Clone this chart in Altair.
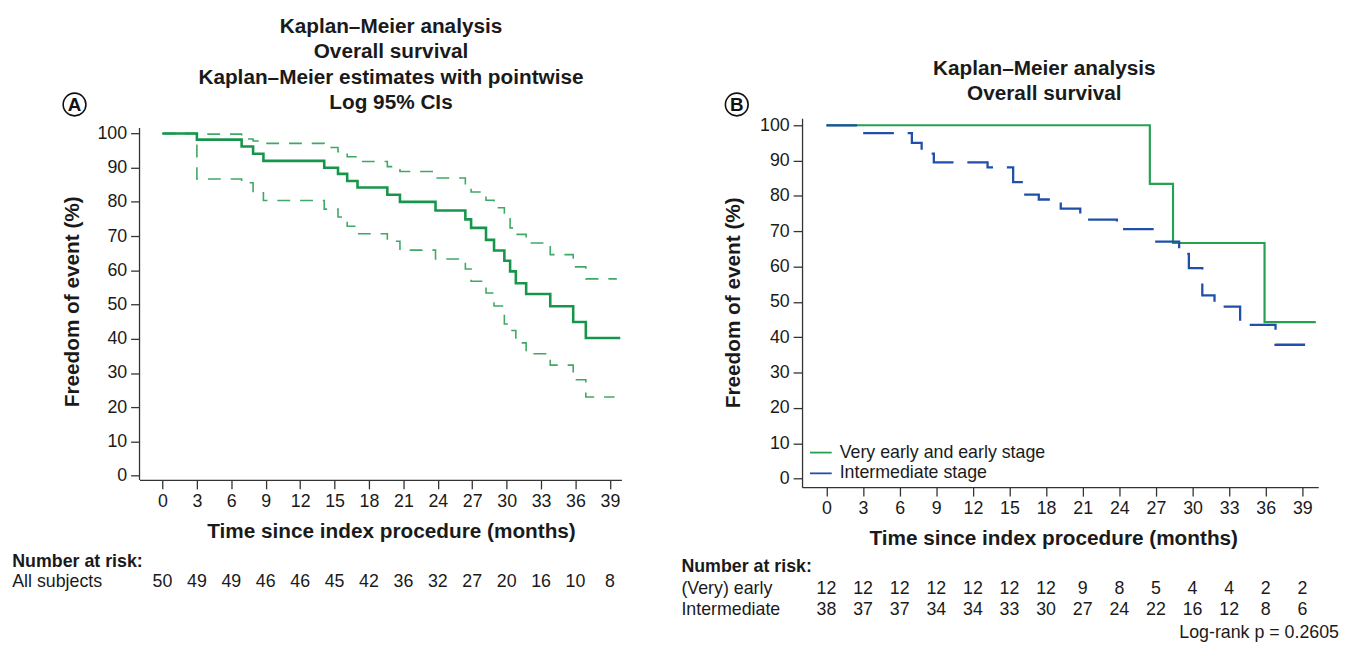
import altair as alt
import pandas as pd

FONT = "Liberation Sans"
TXT = "#1a1a1a"
AX = "#333333"

# ---------------- Panel A data ----------------
km_t = [0, 3.0, 6.9, 7.9, 8.8, 14.1, 15.3, 16.1, 17.0, 19.6, 20.7, 23.8, 26.4, 26.9,
        28.2, 28.9, 29.8, 30.3, 30.8, 31.7, 33.8, 35.8, 36.9, 39.9]
km_s = [100, 98.2, 96.2, 94.1, 92.0, 90.0, 88.2, 86.1, 84.2, 82.1, 80.0, 77.5, 74.9, 72.4,
        68.9, 65.8, 62.8, 59.7, 56.2, 53.1, 49.5, 44.9, 40.2, 40.2]
lo_t = [0, 3.0, 6.9, 7.9, 8.8, 14.1, 15.3, 16.1, 17.0, 19.6, 20.7, 23.8, 26.4, 26.9,
        28.2, 28.9, 29.8, 30.3, 30.8, 31.7, 33.8, 35.8, 36.9, 39.4]
lo_s = [100, 86.7, 85.6, 82.7, 80.4, 77.9, 75.6, 72.9, 70.7, 68.5, 65.9, 63.3, 60.4, 56.8,
        53.4, 49.6, 44.3, 42.4, 38.8, 35.6, 32.3, 28.0, 23.0, 23.0]
hi_t = [0, 3.0, 6.9, 7.9, 8.8, 14.1, 15.3, 16.1, 17.0, 19.6, 20.7, 23.8, 26.4, 26.9,
        28.2, 28.9, 29.8, 30.3, 30.8, 31.7, 33.8, 35.8, 36.9, 39.6]
hi_s = [100, 99.8, 98.4, 97.8, 97.1, 95.9, 94.7, 93.2, 91.8, 90.3, 88.9, 87.0, 84.8, 82.9,
        80.5, 78.3, 76.1, 72.4, 70.5, 68.0, 64.6, 61.0, 57.5, 57.5]

risk_times = [0, 3, 6, 9, 12, 15, 18, 21, 24, 27, 30, 33, 36, 39]
risk_all = [50, 49, 49, 46, 46, 45, 42, 36, 32, 27, 20, 16, 10, 8]

# ---------------- Panel B data ----------------
groups = ["Very early and early stage", "Intermediate stage"]
early_t = [0, 26.5, 28.4, 35.9, 40.1]
early_s = [100, 83.4, 66.7, 44.3, 44.3]
inter_t = [0, 3.0, 7.0, 7.8, 8.8, 13.2, 15.3, 16.0, 17.4, 19.2, 20.8, 23.8, 26.9,
           28.9, 29.7, 30.8, 31.8, 33.9, 36.8, 40.0]
inter_s = [100, 97.8, 95.0, 92.0, 89.5, 88.1, 83.9, 80.4, 79.0, 76.4, 73.3, 70.6, 67.1,
           63.6, 59.6, 51.9, 48.7, 43.5, 37.9, 37.9]
risk_early = [12, 12, 12, 12, 12, 12, 12, 9, 8, 5, 4, 4, 2, 2]
risk_inter = [38, 37, 37, 34, 34, 33, 30, 27, 24, 22, 16, 12, 8, 6]

title_a = ["Kaplan\u2013Meier analysis", "Overall survival",
           "Kaplan\u2013Meier estimates with pointwise", "Log 95% CIs"]
title_b = ["Kaplan\u2013Meier analysis", "Overall survival"]
x_title = "Time since index procedure (months)"
y_title = "Freedom of event (%)"
y_ticks = [0, 10, 20, 30, 40, 50, 60, 70, 80, 90, 100]

GREEN_A = "#17964b"
GREEN_A_CI = "#3fa866"
GREEN_B = "#27a052"
BLUE_B = "#1f4fa8"

one = pd.DataFrame({"k": [0]})


def axis_x(tx, ty):
    return alt.Axis(values=risk_times, tickCount=40, title=x_title, titleX=tx, titleY=ty,
                    titleBaseline="middle", titleAlign="center", labelOverlap=False,
                    labelFontSize=18, labelColor=TXT, labelPadding=4, tickSize=9,
                    tickColor=AX, domainColor=AX, tickWidth=1.3, domainWidth=1.3,
                    titleFontSize=21, titleFontWeight="bold", titleColor=TXT, grid=False)


def axis_y(tx, ty, domain=True):
    return alt.Axis(values=y_ticks, tickCount=40, title=y_title, titleX=tx, titleY=ty,
                    titleBaseline="middle", titleAlign="center", titleAngle=-90,
                    labelOverlap=False,
                    labelFontSize=18, labelColor=TXT, labelPadding=4, tickSize=9,
                    tickColor=AX, domainColor=AX, tickWidth=1.3, domainWidth=1.3,
                    domain=domain,
                    titleFontSize=21, titleFontWeight="bold", titleColor=TXT, grid=False)


# ---------------- Panel A ----------------
WA, HA = 487.3, 365.7
xa = alt.Scale(domain=[-2, 40], nice=False, zero=False)
ya = alt.Scale(domain=[-1.27, 104.42], nice=False, zero=False)

dfa = pd.DataFrame({"t": km_t, "s": km_s})
dlo = pd.DataFrame({"t": lo_t, "s": lo_s})
dhi = pd.DataFrame({"t": hi_t, "s": hi_s})

a_km = alt.Chart(dfa).mark_line(interpolate="step-after", color=GREEN_A, strokeWidth=2.6).encode(
    x=alt.X("t:Q", scale=xa, axis=axis_x(254.3, 52.5)),
    y=alt.Y("s:Q", scale=ya, axis=axis_y(-67.7, 185, domain=False)),
)
a_lo = alt.Chart(dlo).mark_line(interpolate="step-after", color=GREEN_A_CI, strokeWidth=1.6,
                                 strokeDash=[13, 10]).encode(x="t:Q", y="s:Q")
a_hi = alt.Chart(dhi).mark_line(interpolate="step-after", color=GREEN_A_CI, strokeWidth=1.6,
                                 strokeDash=[13, 10]).encode(x="t:Q", y="s:Q")
a_yaxis = alt.Chart(pd.DataFrame({"t": [-2], "s": [-1.27], "s2": [101.6]})).mark_rule(
    color=AX, strokeWidth=1.3).encode(x="t:Q", y="s:Q", y2="s2:Q")

a_title = alt.Chart(one).mark_text(text=title_a, font=FONT, fontSize=21, fontWeight="bold",
                                   color=TXT, align="center", baseline="middle",
                                   lineHeight=25.4).encode(x=alt.value(254.3), y=alt.value(-92))
a_circ = alt.Chart(one).mark_point(shape="circle", size=530, filled=False, color="#111",
                                   strokeWidth=1.6, opacity=1).encode(
    x=alt.value(-65.7), y=alt.value(-14))
a_letter = alt.Chart(one).mark_text(text="A", font=FONT, fontSize=19, fontWeight="bold",
                                    color="#111", align="center", baseline="middle", dy=1).encode(
    x=alt.value(-65.7), y=alt.value(-14))

a_risk_head = alt.Chart(one).mark_text(text="Number at risk:", font=FONT, fontSize=18,
                                       fontWeight="bold", color=TXT, align="left",
                                       baseline="middle").encode(x=alt.value(-128.7), y=alt.value(449))
a_risk_lab = alt.Chart(one).mark_text(text="All subjects", font=FONT, fontSize=18, color=TXT,
                                      align="left", baseline="middle").encode(
    x=alt.value(-128.7), y=alt.value(469))
a_risk = alt.Chart(pd.DataFrame({"t": risk_times, "n": risk_all})).mark_text(
    font=FONT, fontSize=18, color=TXT, align="center", baseline="middle").encode(
    x="t:Q", y=alt.value(469), text="n:Q")

panel_a = alt.layer(a_yaxis, a_lo, a_hi, a_km, a_title, a_circ, a_letter,
                    a_risk_head, a_risk_lab, a_risk).properties(width=WA, height=HA)

# ---------------- Panel B ----------------
WB, HB = 522, 373
xb = alt.Scale(domain=[-2, 40.3], nice=False, zero=False)
yb = alt.Scale(domain=[-2.4, 101.96], nice=False, zero=False)

color_scale = alt.Scale(domain=groups, range=[GREEN_B, BLUE_B])
legend = alt.Legend(title=None, orient="none", legendX=7, legendY=326, symbolType="stroke",
                    symbolSize=484, symbolStrokeWidth=1.8, labelFontSize=18, labelFont=FONT,
                    labelColor=TXT, rowPadding=0, padding=0, labelOffset=7, labelLimit=0)

dfe = pd.DataFrame({"t": early_t, "s": early_s, "g": groups[0]})
dfi = pd.DataFrame({"t": inter_t, "s": inter_s, "g": groups[1]})

b_early = alt.Chart(dfe).mark_line(interpolate="step-after", strokeWidth=2.2).encode(
    x=alt.X("t:Q", scale=xb, axis=axis_x(254, 51.5)),
    y=alt.Y("s:Q", scale=yb, axis=axis_y(-69, 186)),
    color=alt.Color("g:N", scale=color_scale, legend=legend),
)
b_inter = alt.Chart(dfi).mark_line(interpolate="step-after", strokeWidth=2.3,
                                    strokeDash=[31, 14]).encode(
    x="t:Q", y="s:Q", color=alt.Color("g:N", scale=color_scale, legend=legend))

b_title = alt.Chart(one).mark_text(text=title_b, font=FONT, fontSize=21, fontWeight="bold",
                                   color=TXT, align="center", baseline="middle",
                                   lineHeight=25.4).encode(x=alt.value(245), y=alt.value(-50))
b_circ = alt.Chart(one).mark_point(shape="circle", size=530, filled=False, color="#111",
                                   strokeWidth=1.6, opacity=1).encode(
    x=alt.value(-66), y=alt.value(-14))
b_letter = alt.Chart(one).mark_text(text="B", font=FONT, fontSize=19, fontWeight="bold",
                                    color="#111", align="center", baseline="middle", dy=1).encode(
    x=alt.value(-66), y=alt.value(-14))

b_risk_head = alt.Chart(one).mark_text(text="Number at risk:", font=FONT, fontSize=18,
                                       fontWeight="bold", color=TXT, align="left",
                                       baseline="middle").encode(x=alt.value(-122), y=alt.value(454))
b_lab1 = alt.Chart(one).mark_text(text="(Very) early", font=FONT, fontSize=18, color=TXT,
                                  align="left", baseline="middle").encode(
    x=alt.value(-122), y=alt.value(476))
b_lab2 = alt.Chart(one).mark_text(text="Intermediate", font=FONT, fontSize=18, color=TXT,
                                  align="left", baseline="middle").encode(
    x=alt.value(-122), y=alt.value(497))
b_r1 = alt.Chart(pd.DataFrame({"t": risk_times, "n": risk_early})).mark_text(
    font=FONT, fontSize=18, color=TXT, align="center", baseline="middle").encode(
    x="t:Q", y=alt.value(476), text="n:Q")
b_r2 = alt.Chart(pd.DataFrame({"t": risk_times, "n": risk_inter})).mark_text(
    font=FONT, fontSize=18, color=TXT, align="center", baseline="middle").encode(
    x="t:Q", y=alt.value(497), text="n:Q")
b_logrank = alt.Chart(one).mark_text(text="Log-rank p = 0.2605", font=FONT, fontSize=18,
                                     color=TXT, align="right", baseline="middle").encode(
    x=alt.value(543), y=alt.value(521))

panel_b = alt.layer(b_early, b_inter, b_title, b_circ, b_letter, b_risk_head, b_lab1, b_lab2,
                    b_r1, b_r2, b_logrank).properties(width=WB, height=HB)

chart = alt.hconcat(panel_a, panel_b, spacing=56).resolve_scale(
    color="independent"
).properties(
    padding={"left": 4, "top": 5, "right": 0, "bottom": 0}
).configure(font=FONT).configure_view(stroke=None)

chart.save("out.html", embed_options={"renderer": "svg", "actions": False})
